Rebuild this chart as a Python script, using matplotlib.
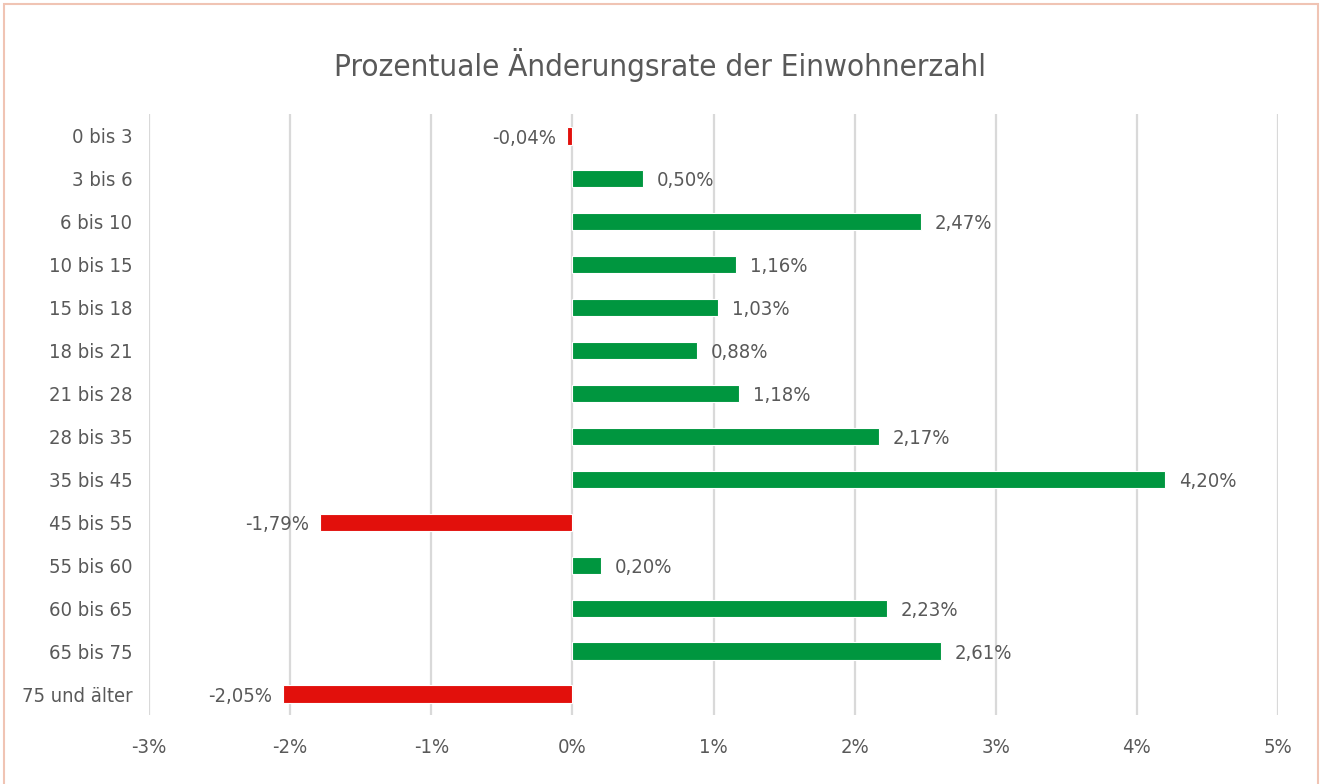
import matplotlib
matplotlib.use('Agg')
import matplotlib.pyplot as plt
from matplotlib.patches import Rectangle
from matplotlib.ticker import FuncFormatter

plt.rcParams['font.family'] = ['DejaVu Sans']
plt.rcParams['font.stretch'] = 'condensed'

categories = ['0 bis 3', '3 bis 6', '6 bis 10', '10 bis 15', '15 bis 18', '18 bis 21',
              '21 bis 28', '28 bis 35', '35 bis 45', '45 bis 55', '55 bis 60',
              '60 bis 65', '65 bis 75', '75 und älter']
changes = [-0.04, 0.50, 2.47, 1.16, 1.03, 0.88, 1.18, 2.17, 4.20, -1.79, 0.20, 2.23, 2.61, -2.05]

GREEN = '#00963f'
RED = '#e2100c'
TEXT = '#595959'

fig = plt.figure(figsize=(13.21, 7.84), dpi=100)
ax = fig.add_axes([0.1128, 0.0874, 0.8547, 0.7666])

colors = [GREEN if v >= 0 else RED for v in changes]
ypos = list(range(len(categories)))
bars = ax.barh(ypos, changes, height=0.4, color=colors, edgecolor='white', linewidth=0.8, zorder=3)

for bar, v in zip(bars, changes):
    y = bar.get_y() + bar.get_height() / 2
    label = f'{v:.2f}%'.replace('.', ',')
    if v >= 0:
        ax.annotate(label, (v, y), xytext=(10, -1.5), textcoords='offset points',
                    ha='left', va='center', fontsize=14.5, color=TEXT)
    else:
        ax.annotate(label, (v, y), xytext=(-8, -1.5), textcoords='offset points',
                    ha='right', va='center', fontsize=14.5, color=TEXT)

ax.set_xlim(-3, 5)
ax.set_ylim(len(categories) - 0.5, -0.5)
ax.set_yticks(ypos)
ax.set_yticklabels(categories)
ax.set_xticks(range(-3, 6))
ax.xaxis.set_major_formatter(FuncFormatter(lambda x, p: f'{int(x)}%'))
ax.tick_params(axis='both', length=0, labelsize=14.5, labelcolor=TEXT)
ax.tick_params(axis='y', pad=12)
ax.tick_params(axis='x', pad=16)
ax.grid(axis='x', color='#d9d9d9', linewidth=1.6, zorder=0)
ax.set_axisbelow(True)
for s in ax.spines.values():
    s.set_visible(False)

fig.text(0.5, 0.917, 'Prozentuale Änderungsrate der Einwohnerzahl', ha='center', va='center',
         fontsize=22.5, color=TEXT)

fig.patches.append(Rectangle((4 / 1321, -0.01), 1314 / 1321, 1 - 4 / 784 + 0.01,
                             transform=fig.transFigure, fill=False,
                             edgecolor='#f0c4b4', linewidth=1.5))

fig.savefig('out.png', dpi=100)
